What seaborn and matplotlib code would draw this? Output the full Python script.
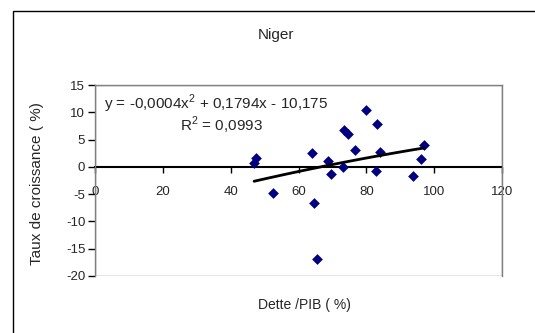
import numpy as np
import pandas as pd
import matplotlib
matplotlib.use("Agg")
import matplotlib.pyplot as plt
import seaborn as sns
from matplotlib.patches import Rectangle

# ---- data ----
dette_pib = [46.9, 47.6, 52.6, 64.0, 64.5, 65.4, 68.8, 69.5, 73.0, 73.5,
             74.5, 76.8, 79.8, 82.8, 83.0, 84.0, 93.8, 96.0, 97.0]
croissance = [0.7, 1.7, -4.7, 2.5, -6.6, -16.8, 1.0, -1.3, -0.1, 6.75,
              6.1, 3.1, 10.4, -0.7, 7.8, 2.8, -1.6, 1.5, 4.0]
poly_coefs = [-0.0004, 0.1794, -10.175]   # a, b, c of trend
x_ticks = [0, 20, 40, 60, 80, 100, 120]
y_ticks = [15, 10, 5, 0, -5, -10, -15, -20]
y_tick_labels = ["15", "10", "5", "0", "-5", "-10", "-15", "-20"]
title = "Niger"
x_label = "Dette /PIB ( %)"
y_label = "Taux de croissance ( %)"
eq_text = "y = -0,0004x$^{2}$ + 0,1794x - 10,175"
r2_text = "R$^{2}$ = 0,0993"

sns.set_style("white")
plt.rcParams["font.family"] = ["Liberation Sans", "DejaVu Sans"]
plt.rcParams["mathtext.fontset"] = "custom"
plt.rcParams["mathtext.rm"] = "Liberation Sans"

W, H = 535, 333
fig = plt.figure(figsize=(W / 100, H / 100), dpi=100)
fig.patch.set_facecolor("white")

# outer chart frame (extends past right/bottom edge)
fig.patches.append(Rectangle((13 / W, -0.1), 1.2, 1 - 11 / H + 0.1,
                             transform=fig.transFigure, fill=False,
                             edgecolor="black", linewidth=1.0))

ax = fig.add_axes([95 / W, 1 - 276 / H, (502 - 95) / W, (276 - 85) / H])
df = pd.DataFrame({"x": dette_pib, "y": croissance})

sns.scatterplot(data=df, x="x", y="y", marker="D", s=30, color="#000080",
                edgecolor="#000080", linewidth=0, ax=ax, zorder=3)

xs = np.linspace(min(dette_pib), max(dette_pib), 100)
ys = np.polyval(poly_coefs, xs)
sns.lineplot(x=xs, y=ys, color="black", linewidth=2.0, ax=ax, zorder=4)

ax.set_xlim(0, 120)
ax.set_ylim(-20, 15)
ax.set_xticks(x_ticks)
ax.set_xticklabels([str(t) for t in x_ticks])
ax.set_yticks(y_ticks)
ax.set_yticklabels(y_tick_labels)

for s in ["top", "right", "left"]:
    ax.spines[s].set_color("#808080")
    ax.spines[s].set_linewidth(1.0)
ax.spines["bottom"].set_position(("data", 0))
ax.spines["bottom"].set_color("black")
ax.spines["bottom"].set_linewidth(1.5)
ax.spines["bottom"].set_zorder(2)
# bottom border of plot area
ax.add_patch(Rectangle((0, 0), 1, 1, transform=ax.transAxes, fill=False,
                       edgecolor="#808080", linewidth=1.0, zorder=1))

ax.tick_params(axis="x", direction="out", length=4, width=1, color="black",
               pad=10, labelsize=9.5, bottom=True)
ax.tick_params(axis="y", direction="out", length=5, width=1, color="black",
               pad=2, labelsize=9.5, left=True)

ax.set_xlabel("")
ax.set_ylabel("")
fig.text(276 / W, 1 - 35 / H, title, ha="center", va="center", fontsize=11)
fig.text(304 / W, 1 - 305 / H, x_label, ha="center", va="center", fontsize=10)
fig.text(37 / W, 1 - 184 / H, y_label, ha="center", va="center",
         rotation=90, fontsize=11)

ax.text(104 / W, 1 - 104 / H, eq_text, transform=fig.transFigure,
        ha="left", va="center", fontsize=11)
ax.text(221 / W, 1 - 125 / H, r2_text, transform=fig.transFigure,
        ha="center", va="center", fontsize=11)

fig.savefig("out.png", dpi=100, facecolor="white")
